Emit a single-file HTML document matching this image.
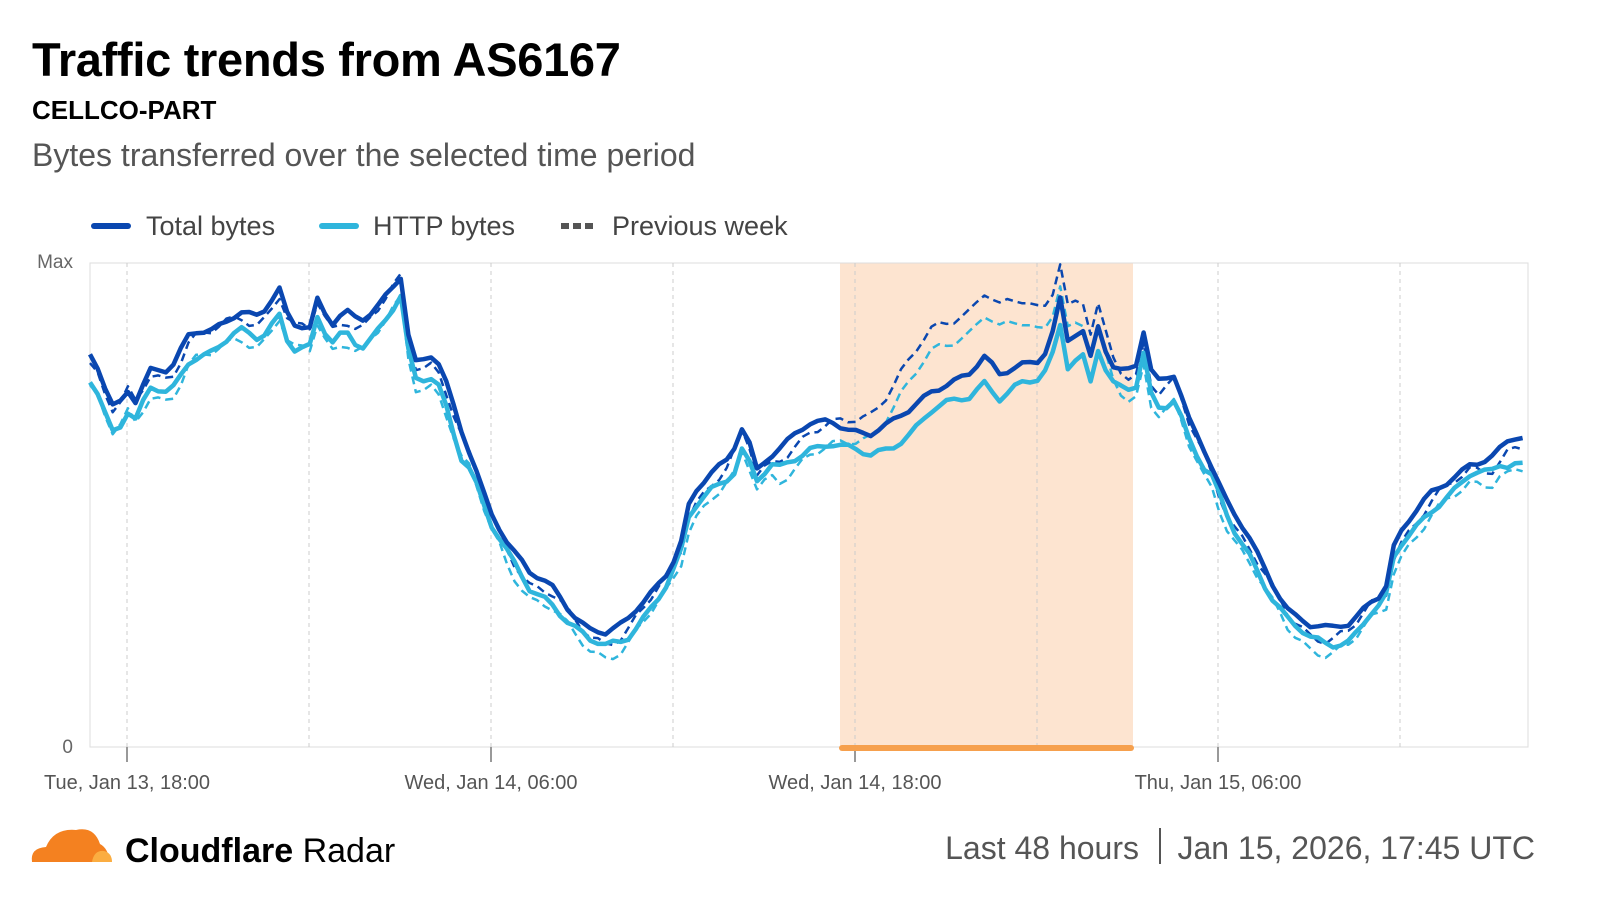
<!DOCTYPE html>
<html><head><meta charset="utf-8"><style>
body{margin:0;width:1600px;height:914px;background:#fff;font-family:"Liberation Sans",sans-serif;overflow:hidden;position:relative}
.t{position:absolute;white-space:nowrap}
</style></head><body>
<div class="t" style="left:32px;top:32px;font-size:47px;font-weight:bold;color:#000;letter-spacing:-0.3px">Traffic trends from AS6167</div>
<div class="t" style="left:32px;top:95px;font-size:26px;font-weight:bold;color:#000">CELLCO-PART</div>
<div class="t" style="left:32px;top:137px;font-size:32px;color:#555">Bytes transferred over the selected time period</div>
<svg width="1600" height="914" style="position:absolute;left:0;top:0" id="s">
<line x1="94" y1="226" x2="128" y2="226" stroke="#0a47b0" stroke-width="6" stroke-linecap="round"/>
<text x="146" y="235" font-size="27" fill="#444" font-family="Liberation Sans">Total bytes</text>
<line x1="322" y1="226" x2="356" y2="226" stroke="#2fb5dc" stroke-width="6" stroke-linecap="round"/>
<text x="373" y="235" font-size="27" fill="#444" font-family="Liberation Sans">HTTP bytes</text>
<line x1="561" y1="226" x2="597" y2="226" stroke="#555" stroke-width="6" stroke-dasharray="8,4"/>
<text x="612" y="235" font-size="27" fill="#444" font-family="Liberation Sans">Previous week</text>
<rect x="840" y="263" width="293" height="484" fill="#fde4d0"/>
<rect x="90" y="263" width="1438" height="484" fill="none" stroke="#ddd"/>
<g stroke="#ccc" stroke-dasharray="4,4">
<line x1="127" y1="263" x2="127" y2="747"/><line x1="309" y1="263" x2="309" y2="747"/><line x1="491" y1="263" x2="491" y2="747"/><line x1="673" y1="263" x2="673" y2="747"/><line x1="855" y1="263" x2="855" y2="747"/><line x1="1037" y1="263" x2="1037" y2="747"/><line x1="1218" y1="263" x2="1218" y2="747"/><line x1="1400" y1="263" x2="1400" y2="747"/></g>
<g stroke="#999" stroke-width="2"><line x1="127" y1="747" x2="127" y2="762"/><line x1="491" y1="747" x2="491" y2="762"/><line x1="855" y1="747" x2="855" y2="762"/><line x1="1218" y1="747" x2="1218" y2="762"/></g>
<line x1="842" y1="748" x2="1131" y2="748" stroke="#f6a04d" stroke-width="6" stroke-linecap="round"/>
<text x="73" y="268" font-size="19" fill="#666" text-anchor="end" font-family="Liberation Sans">Max</text>
<text x="73" y="753" font-size="19" fill="#666" text-anchor="end" font-family="Liberation Sans">0</text>
<g font-size="20" fill="#555" text-anchor="middle" font-family="Liberation Sans">
<text x="127" y="789">Tue, Jan 13, 18:00</text><text x="491" y="789">Wed, Jan 14, 06:00</text><text x="855" y="789">Wed, Jan 14, 18:00</text><text x="1218" y="789">Thu, Jan 15, 06:00</text></g>
<g id="ser"></g>
<path d="M32 862 Q30 848 46 847 Q54 828 76 830 Q94 826 100 844 Q108 848 110 862 Z" fill="#f48120"/>
<path d="M92 862 Q94 850 104 851 Q112 853 112 862 Z" fill="#fbad41"/>
<text x="125" y="862" font-size="34" font-weight="bold" fill="#000" font-family="Liberation Sans">Cloudflare <tspan font-weight="normal">Radar</tspan></text>
<text x="1139" y="859" font-size="32" fill="#555" text-anchor="end" font-family="Liberation Sans">Last 48 hours</text>
<line x1="1160" y1="828" x2="1160" y2="864" stroke="#555" stroke-width="2"/>
<text x="1535" y="859" font-size="32" fill="#555" text-anchor="end" font-family="Liberation Sans">Jan 15, 2026, 17:45 UTC</text>
</svg>
<script>
var P=[[90,357],[100,373],[110,405],[118,410],[125,385],[135,400],[150,368],[170,372],[190,335],[210,330],[240,310],[260,318],[280,290],[290,325],[310,325],[318,295],[330,325],[345,310],[360,325],[375,310],[390,290],[402,273],[408,330],[415,360],[425,360],[435,355],[445,380],[460,430],[475,465],[490,510],[510,545],[530,575],[550,585],[570,610],[590,628],[605,633],[625,625],[645,600],[665,575],[680,545],[690,500],[710,475],[730,460],[745,418],[755,470],[770,455],[790,440],[810,425],[830,420],[850,428],[870,435],[890,425],[910,410],[930,390],[950,382],[970,375],[985,358],[1000,375],[1020,362],[1040,360],[1050,345],[1060,300],[1070,355],[1080,320],[1090,360],[1100,318],[1108,360],[1120,368],[1135,370],[1145,326],[1150,370],[1160,385],[1175,375],[1190,420],[1210,460],[1230,510],[1250,540],[1270,580],[1290,610],[1310,625],[1330,630],[1350,625],[1370,600],[1385,590],[1395,540],[1410,520],[1430,495],[1450,480],[1470,462],[1490,460],[1510,440],[1528,440]];
function f(x){for(var i=1;i<P.length;i++)if(x<=P[i][0]){var a=P[i-1],b=P[i];return a[1]+(b[1]-a[1])*(x-a[0])/(b[0]-a[0]);}return P[P.length-1][1];}
function noise(x,s){return Math.sin(x*0.9+s)*3+Math.sin(x*2.3+s*2)*2.5;}
function path(fn){var d="";for(var x=90;x<=1528;x+=7.58){d+=(d?"L":"M")+x.toFixed(1)+" "+fn(x).toFixed(1);}return d;}
function bump(x){return (x>830&&x<1130)?-75*Math.sin(Math.PI*(x-830)/300):0;}
var http=function(x){var y=f(x);return y+(y<450?22:14)+noise(x,1);};
var pt=function(x){var y=f(x);return y+(x<500?5:8)+bump(x)+noise(x,3)*1.5;};
var ph=function(x){return pt(x)+(f(x)<450?22:14);};
var g=document.getElementById('ser'),ns="http://www.w3.org/2000/svg";
function add(d,c,w,da){var p=document.createElementNS(ns,'path');p.setAttribute('d',d);p.setAttribute('fill','none');p.setAttribute('stroke',c);p.setAttribute('stroke-width',w);p.setAttribute('stroke-linejoin','round');if(da)p.setAttribute('stroke-dasharray',da);g.appendChild(p);}
add(path(ph),'#2fb5dc',2.5,'8,5');
add(path(pt),'#0a47b0',2.5,'8,5');
add(path(http),'#2fb5dc',4.5);
add(path(function(x){return f(x)+noise(x,5)*0.8;}),'#0a47b0',4.5);
</script>
</body></html>
